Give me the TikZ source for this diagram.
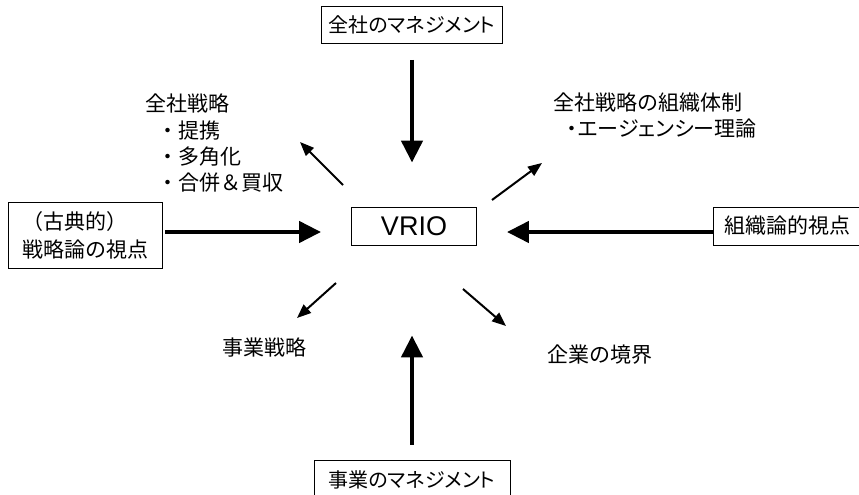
\documentclass[tikz,border=0pt]{standalone}
\usepackage{fontspec}
\setmainfont{Noto Sans CJK JP}
\newfontfamily\jpp[RawFeature=+palt]{Noto Sans CJK JP}
\newfontfamily\latinfont{Liberation Sans}
\usetikzlibrary{arrows.meta}
\begin{document}
\begin{tikzpicture}[x=1pt,y=-1pt,
  jp/.style={font=\fontsize{21}{28}\selectfont},
  box/.style={draw, line width=0.9pt, inner sep=0pt, jp},
  lbl/.style={inner sep=0pt, anchor=west, jp},
  thickarrow/.style={line width=4.5pt, -{Triangle[width=21pt,length=22pt]}},
  thinarrow/.style={line width=2pt, -{Triangle[width=11pt,length=14pt]}}]
\useasboundingbox[fill=white] (0,0) rectangle (859,495);

% boxes
\node[box, minimum width=181pt, minimum height=37pt, font=\jpp\fontsize{20}{24}\selectfont] (top) at (412,25) {全社のマネジメント};
\node[box, minimum width=125pt, minimum height=38pt,
      font=\latinfont\fontsize{27}{30}\selectfont] (vrio) at (414,226) {VRIO};
\node[box, minimum width=154pt, minimum height=66pt, align=left] (lb) at (85,235) {（古典的）\\戦略論の視点};
\node[box, minimum width=148pt, minimum height=38pt] (rb) at (787,226) {組織論的視点};
\node[box, minimum width=196pt, minimum height=40pt, font=\jpp\fontsize{20}{24}\selectfont] (bot) at (412,480) {事業のマネジメント};

% labels
\node[lbl] (cs)  at (145,103) {全社戦略};
\node[lbl] (cs1) at (157,131) {・提携};
\node[lbl] (cs2) at (157,157) {・多角化};
\node[lbl] (cs3) at (157,183) {・合併＆買収};
\node[lbl] (co)  at (553,103) {全社戦略の組織体制};
\node[lbl, font=\jpp\fontsize{21}{28}\selectfont] (co1) at (567,129) {・エージェンシー理論};
\node[lbl] (bs)  at (222,348) {事業戦略};
\node[lbl] (fb)  at (547,355) {企業の境界};

% thick arrows
\draw[thickarrow] ([yshift=-16pt]top.south) -- ([yshift=44pt]top.south |- vrio.north);
\draw[thickarrow] ([xshift=3pt]lb.east |- 0,232) -- ([xshift=-30pt]vrio.west |- 0,232);
\draw[thickarrow] (rb.west |- 0,232) -- ([xshift=30pt]vrio.east |- 0,232);
\draw[thickarrow] ([yshift=15pt]bot.north) -- ([yshift=-90pt]bot.north |- vrio.south);

% thin arrows
\coordinate (nw0) at (343,185); \coordinate (nw1) at (300,142);
\coordinate (ne0) at (492,200); \coordinate (ne1) at (542,163);
\coordinate (sw0) at (336,283); \coordinate (sw1) at (297,318);
\coordinate (se0) at (463,289); \coordinate (se1) at (506,326);
\draw[thinarrow] (nw0) -- (nw1);
\draw[thinarrow] (ne0) -- (ne1);
\draw[thinarrow] (sw0) -- (sw1);
\draw[thinarrow] (se0) -- (se1);
\end{tikzpicture}
\end{document}
